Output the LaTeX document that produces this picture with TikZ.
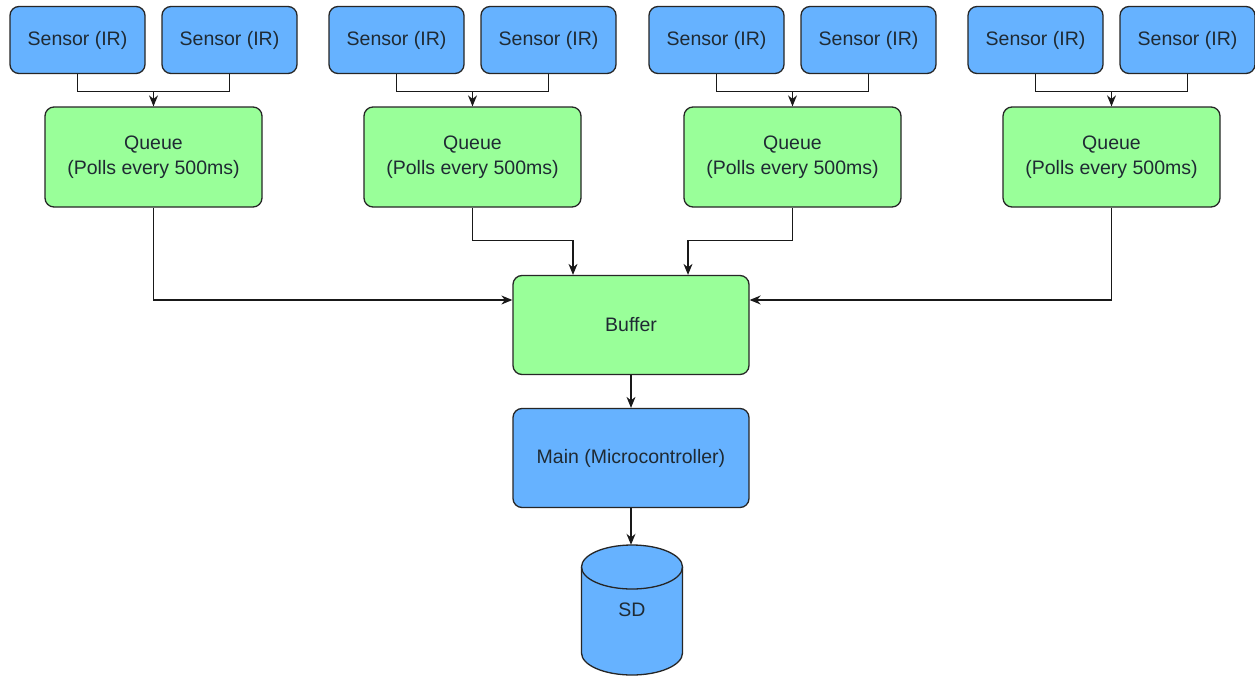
\documentclass[tikz,border=0pt]{standalone}
\usepackage{fontspec}
\setmainfont{Liberation Sans}
\usetikzlibrary{arrows.meta}
\definecolor{sblue}{HTML}{66B2FF}
\definecolor{sgreen}{HTML}{99FF99}
\definecolor{txt}{HTML}{1F2A33}
\tikzset{
  box/.style={rectangle, rounded corners=9pt, draw=black!85, line width=1.3pt, text=txt,
    font=\fontsize{19.5}{25}\selectfont, align=center, inner sep=0pt},
  sensorbox/.style={box, fill=sblue, minimum width=135pt, minimum height=67pt},
  queuebox/.style={box, fill=sgreen, minimum width=217pt, minimum height=100pt},
  bigbox/.style={box, minimum width=236pt, minimum height=99pt},
  link/.style={draw=black!90, line width=1.2pt},
  arr/.style={link, -{Stealth[length=11pt,width=9pt]}},
}
\begin{document}
\begin{tikzpicture}[x=1pt,y=-1pt]
\useasboundingbox[fill=white] (0,0) rectangle (1255,677);
\foreach \i/\gx in {1/10,2/329,3/649,4/968}{
  \node[sensorbox] (s\i a) at (\gx+67.5,40) {Sensor (IR)};
  \node[sensorbox] (s\i b) at (\gx+219.5,40) {Sensor (IR)};
  \node[queuebox] (q\i) at (\gx+143.5,157) {Queue\\(Polls every 500ms)};
  \draw[arr] (s\i a.south) -- ++(0,17) -| (q\i.north);
  \draw[link] (s\i b.south) -- ++(0,17) -| (q\i.north);
}
\node[bigbox, fill=sgreen] (buf) at (631,325) {Buffer};
\node[bigbox, fill=sblue] (main) at (631,458) {Main (Microcontroller)};
% SD cylinder
\node[minimum width=101pt, minimum height=130pt, inner sep=0pt] (sd) at (632,610) {};
\fill[sblue, draw=black!85, line width=1.3pt]
  (581.5,567) -- (581.5,653) arc[start angle=180, end angle=360, x radius=50.5pt, y radius=22pt]
  -- (682.5,567) arc[start angle=0, end angle=180, x radius=50.5pt, y radius=22pt] -- cycle;
\draw[black!85, line width=1.3pt] (581.5,567) arc[start angle=180, end angle=360, x radius=50.5pt, y radius=22pt];
\node[box, draw=none, fill=none] (sdlabel) at (632,610) {SD};
% connectors
\draw[arr] (q1.south) |- ([yshift=25pt]buf.west);
\draw[arr] (q4.south) |- ([yshift=25pt]buf.east);
\draw[arr] (q2.south) -- ++(0,33) -| ([xshift=-58pt]buf.north);
\draw[arr] (q3.south) -- ++(0,33) -| ([xshift=57pt]buf.north);
\draw[arr] (buf.south) -- (main.north);
\draw[arr] (main.south) -- (main.south |- sd.north);
\end{tikzpicture}
\end{document}
